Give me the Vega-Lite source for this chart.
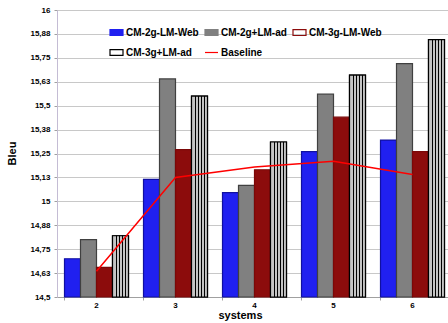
{
  "$schema": "https://vega.github.io/schema/vega-lite/v6.json",
  "width": 395,
  "height": 287,
  "autosize": {"type": "none"},
  "padding": {"left": 57, "top": 10, "right": 0, "bottom": 26},
  "background": "white",
  "config": {
    "font": "Liberation Sans",
    "view": {"stroke": "#c4bcd4", "strokeWidth": 1},
    "legend": {
      "title": null,
      "orient": "none",
      "legendX": 52,
      "legendY": 15,
      "direction": "horizontal",
      "columns": 3,
      "padding": 0,
      "columnPadding": 3,
      "rowPadding": 7,
      "symbolType": "M-1,-0.45H1V0.45H-1Z",
      "symbolSize": 169,
      "symbolStrokeWidth": 1.2,
      "labelFontSize": 10,
      "labelFontWeight": "bold",
      "labelColor": "black",
      "labelOffset": 2
    }
  },
  "datasets": {
    "bars": [
      {"system": 2, "series": "CM-2g-LM-Web", "bleu": 14.70},
      {"system": 2, "series": "CM-2g+LM-ad", "bleu": 14.80},
      {"system": 2, "series": "CM-3g-LM-Web", "bleu": 14.655},
      {"system": 2, "series": "CM-3g+LM-ad", "bleu": 14.82},
      {"system": 3, "series": "CM-2g-LM-Web", "bleu": 15.115},
      {"system": 3, "series": "CM-2g+LM-ad", "bleu": 15.64},
      {"system": 3, "series": "CM-3g-LM-Web", "bleu": 15.27},
      {"system": 3, "series": "CM-3g+LM-ad", "bleu": 15.55},
      {"system": 4, "series": "CM-2g-LM-Web", "bleu": 15.045},
      {"system": 4, "series": "CM-2g+LM-ad", "bleu": 15.083},
      {"system": 4, "series": "CM-3g-LM-Web", "bleu": 15.165},
      {"system": 4, "series": "CM-3g+LM-ad", "bleu": 15.31},
      {"system": 5, "series": "CM-2g-LM-Web", "bleu": 15.26},
      {"system": 5, "series": "CM-2g+LM-ad", "bleu": 15.56},
      {"system": 5, "series": "CM-3g-LM-Web", "bleu": 15.44},
      {"system": 5, "series": "CM-3g+LM-ad", "bleu": 15.66},
      {"system": 6, "series": "CM-2g-LM-Web", "bleu": 15.32},
      {"system": 6, "series": "CM-2g+LM-ad", "bleu": 15.72},
      {"system": 6, "series": "CM-3g-LM-Web", "bleu": 15.26},
      {"system": 6, "series": "CM-3g+LM-ad", "bleu": 15.845}
    ],
    "baseline": [
      {"system": 2, "series": "Baseline", "bleu": 14.635},
      {"system": 3, "series": "Baseline", "bleu": 15.125},
      {"system": 4, "series": "Baseline", "bleu": 15.18},
      {"system": 5, "series": "Baseline", "bleu": 15.21},
      {"system": 6, "series": "Baseline", "bleu": 15.14}
    ]
  },
  "layer": [
    {
      "data": {"name": "bars"},
      "mark": {"type": "bar", "strokeWidth": 1.2},
      "encoding": {
        "x": {
          "field": "system",
          "type": "ordinal",
          "scale": {"paddingInner": 0.19, "paddingOuter": 0.095},
          "axis": {
            "title": "systems",
            "titleFontSize": 11,
            "titleFontWeight": "bold",
            "titlePadding": 0,
            "titleX": 183,
            "labelFontSize": 8,
            "labelFontWeight": "bold",
            "labelColor": "black",
            "labelAngle": 0,
            "labelPadding": 1,
            "bandPosition": 0,
            "ticks": true,
            "tickSize": 3,
            "tickColor": "#a0a0a0",
            "domainColor": "#a0a0a0"
          }
        },
        "xOffset": {
          "field": "series",
          "type": "nominal",
          "scale": {
            "domain": ["CM-2g-LM-Web", "CM-2g+LM-ad", "CM-3g-LM-Web", "CM-3g+LM-ad"],
            "paddingInner": 0,
            "paddingOuter": 0
          }
        },
        "y": {
          "field": "bleu",
          "type": "quantitative",
          "scale": {"domain": [14.5, 16], "zero": false, "nice": false},
          "axis": {
            "title": "Bleu",
            "titleFontSize": 11,
            "titleFontWeight": "bold",
            "titleX": -45,
            "titleY": 143,
            "titleAlign": "center",
            "titleBaseline": "middle",
            "values": [14.5, 14.625, 14.75, 14.875, 15, 15.125, 15.25, 15.375, 15.5, 15.625, 15.75, 15.875, 16],
            "tickCount": 20,
            "labelExpr": "replace(toString(round(datum.value * 100) / 100), '.', ',')",
            "labelOverlap": false,
            "labelFontSize": 8,
            "labelFontWeight": "bold",
            "labelColor": "black",
            "labelPadding": 4,
            "tickSize": 3,
            "tickColor": "#a0a0a0",
            "domainColor": "#c4bcd4",
            "grid": true,
            "gridColor": "#c8c8c8",
            "gridWidth": 1
          }
        },
        "y2": {"datum": 14.5},
        "color": {
          "field": "series",
          "type": "nominal",
          "scale": {
            "domain": ["CM-2g-LM-Web", "CM-2g+LM-ad", "CM-3g-LM-Web", "CM-3g+LM-ad", "Baseline"],
            "range": ["#2020f0", "#808080", "#8c0c0c", "#000000", "#ff0000"]
          },
          "legend": {
            "encode": {
              "symbols": {
                "update": {
                  "shape": [
                    {"test": "datum.value === 'Baseline'", "value": "stroke"},
                    {"value": "M-1,-0.45H1V0.45H-1Z"}
                  ],
                  "fillOpacity": [
                    {"test": "datum.value === 'CM-3g-LM-Web' || datum.value === 'CM-3g+LM-ad' || datum.value === 'Baseline'", "value": 0},
                    {"value": 1}
                  ],
                  "strokeWidth": {"value": 1.2}
                }
              }
            }
          }
        },
        "stroke": {
          "field": "series",
          "type": "nominal",
          "scale": {
            "domain": ["CM-2g-LM-Web", "CM-2g+LM-ad", "CM-3g-LM-Web", "CM-3g+LM-ad"],
            "range": ["#1010a0", "#404040", "#7a0808", "#000000"]
          },
          "legend": null
        }
      }
    },
    {
      "data": {"name": "bars"},
      "transform": [{"filter": "datum.series === 'CM-3g+LM-ad'"}],
      "mark": {
        "type": "bar",
        "stroke": "#000000",
        "strokeWidth": 1.2,
        "fill": {
          "gradient": "linear",
          "x1": 0, "x2": 1, "y1": 0, "y2": 0,
          "stops": [
            {"offset": 0, "color": "#c4c4c4"},
            {"offset": 0.2, "color": "#c4c4c4"},
            {"offset": 0.2, "color": "#000000"},
            {"offset": 0.27, "color": "#000000"},
            {"offset": 0.27, "color": "#c4c4c4"},
            {"offset": 0.4, "color": "#c4c4c4"},
            {"offset": 0.4, "color": "#000000"},
            {"offset": 0.47, "color": "#000000"},
            {"offset": 0.47, "color": "#c4c4c4"},
            {"offset": 0.6, "color": "#c4c4c4"},
            {"offset": 0.6, "color": "#000000"},
            {"offset": 0.67, "color": "#000000"},
            {"offset": 0.67, "color": "#c4c4c4"},
            {"offset": 0.8, "color": "#c4c4c4"},
            {"offset": 0.8, "color": "#000000"},
            {"offset": 0.87, "color": "#000000"},
            {"offset": 0.87, "color": "#c4c4c4"},
            {"offset": 1, "color": "#c4c4c4"}
          ]
        }
      },
      "encoding": {
        "x": {"field": "system", "type": "ordinal"},
        "xOffset": {"field": "series", "type": "nominal"},
        "y": {"field": "bleu", "type": "quantitative"},
        "y2": {"datum": 14.5}
      }
    },
    {
      "data": {"name": "baseline"},
      "mark": {"type": "line", "strokeWidth": 1.5},
      "encoding": {
        "x": {"field": "system", "type": "ordinal"},
        "y": {"field": "bleu", "type": "quantitative"},
        "color": {"field": "series", "type": "nominal"}
      }
    }
  ]
}
